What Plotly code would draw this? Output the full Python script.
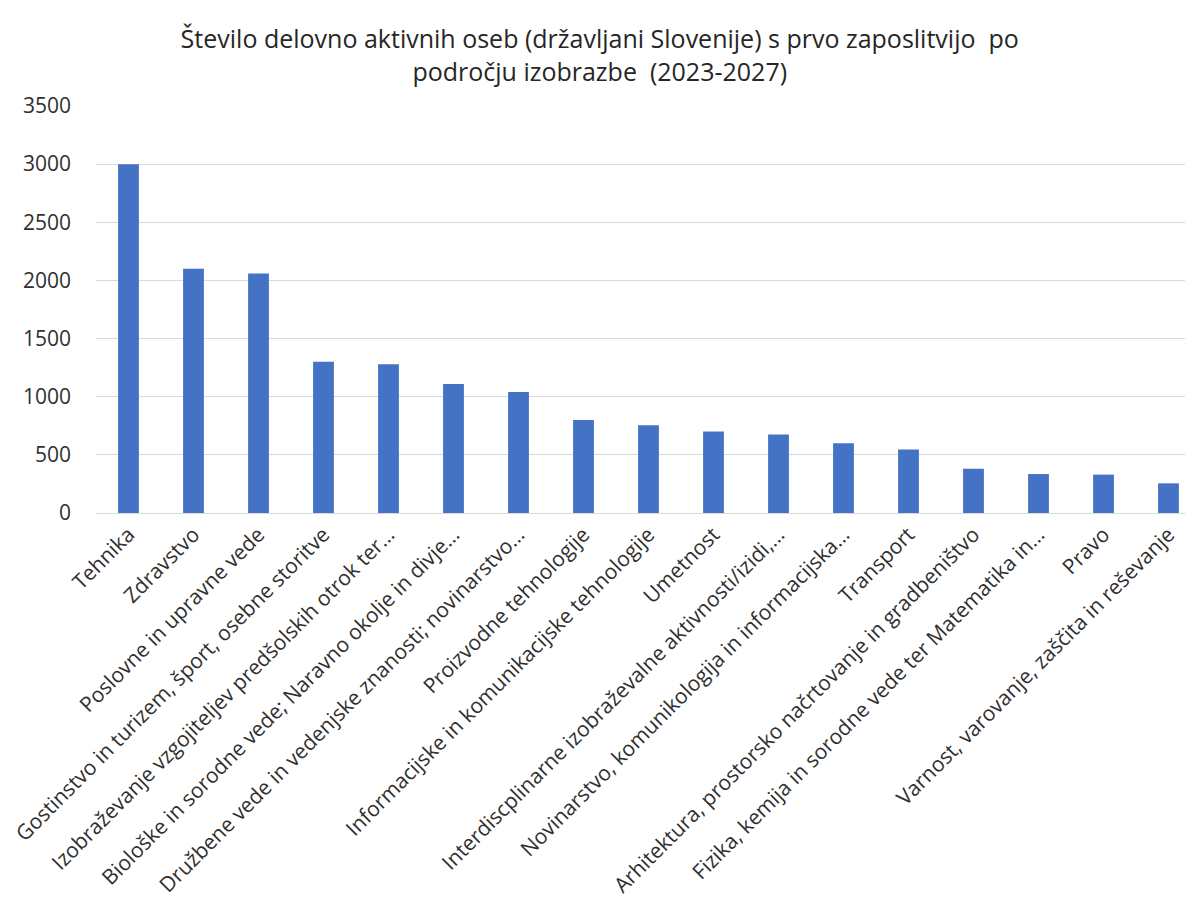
import plotly.graph_objects as go

categories = [
    "Tehnika",
    "Zdravstvo",
    "Poslovne in upravne vede",
    "Gostinstvo in turizem, šport, osebne storitve",
    "Izobraževanje vzgojiteljev predšolskih otrok ter…",
    "Biološke in sorodne vede; Naravno okolje in divje…",
    "Družbene vede in vedenjske znanosti; novinarstvo…",
    "Proizvodne tehnologije",
    "Informacijske in komunikacijske tehnologije",
    "Umetnost",
    "Interdiscplinarne izobraževalne aktivnosti/izidi,…",
    "Novinarstvo, komunikologija in informacijska…",
    "Transport",
    "Arhitektura, prostorsko načrtovanje in gradbeništvo",
    "Fizika, kemija in sorodne vede ter Matematika in…",
    "Pravo",
    "Varnost, varovanje, zaščita in reševanje",
]
values = [3000, 2100, 2060, 1300, 1280, 1110, 1040, 800, 755, 700, 675, 600, 545, 380, 335, 330, 255]
y_ticks = [0, 500, 1000, 1500, 2000, 2500, 3000, 3500]

title_text = ("Število delovno aktivnih oseb (državljani Slovenije) s prvo zaposlitvijo  po<br>"
              "področju izobrazbe  (2023-2027)")

fig = go.Figure(go.Bar(
    x=categories,
    y=values,
    marker=dict(color="#4472C4", line=dict(width=0)),
))

fig.update_layout(
    width=1193,
    height=909,
    paper_bgcolor="white",
    plot_bgcolor="white",
    margin=dict(l=88, r=0, t=98, b=404),
    bargap=0.68,
    showlegend=False,
    font=dict(family="Open Sans, sans-serif", color="#404040"),
    title=dict(
        text=title_text,
        x=0.496,
        xanchor="center",
        xref="container",
        yref="container",
        y=1 - 40 / 909,
        yanchor="middle",
        font=dict(size=25, color="#262626", family="Open Sans, sans-serif"),
    ),
)

fig.update_xaxes(
    type="category",
    range=[-0.5, 16.5],
    tickangle=-45,
    tickfont=dict(size=21, color="#303030"),
    showgrid=False,
    showline=True,
    linecolor="#d9d9d9",
    linewidth=1,
    ticks="",
    automargin=False,
)

fig.update_yaxes(
    range=[0, 3500],
    tickvals=y_ticks,
    ticktext=[str(v) for v in y_ticks],
    tickfont=dict(size=21, color="#303030"),
    showgrid=True,
    gridcolor="#d9d9d9",
    gridwidth=1,
    zeroline=False,
    showline=False,
    ticks="",
    ticklabelstandoff=24,
    automargin=False,
)

fig.write_html("out.html")
